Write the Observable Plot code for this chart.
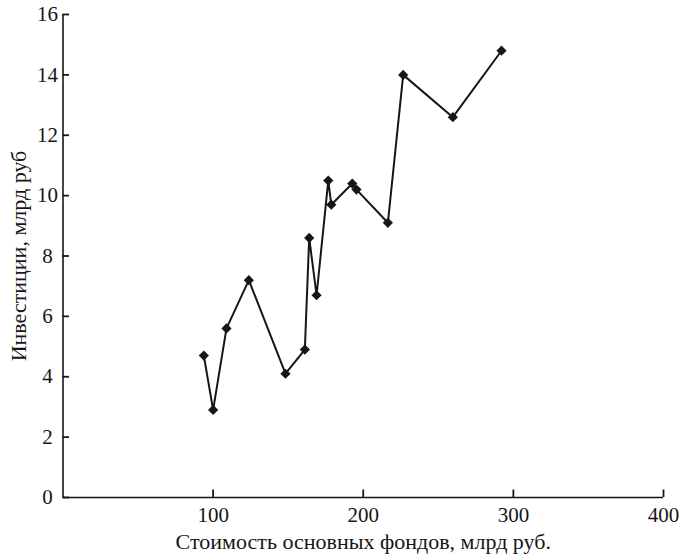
<!DOCTYPE html>
<html><head><meta charset="utf-8">
<script src="https://cdn.jsdelivr.net/npm/d3@7"></script>
<script src="https://cdn.jsdelivr.net/npm/@observablehq/plot@0.6"></script>
<style>
body{margin:0;background:#fff;}
</style></head><body><div id="chart"></div>
<script>
const fundsValue = [93.8, 100, 108.9, 123.8, 148.2, 161.1, 164.0, 168.9, 176.7, 178.7, 192.7, 195.5, 216.4, 226.6, 259.7, 292.1];
const investment = [4.7, 2.9, 5.6, 7.2, 4.1, 4.9, 8.6, 6.7, 10.5, 9.7, 10.4, 10.2, 9.1, 14.0, 12.6, 14.8];
const xTicks = [100, 200, 300, 400];
const yTicks = [0, 2, 4, 6, 8, 10, 12, 14, 16];
const xLabel = "Стоимость основных фондов, млрд руб.";
const yLabel = "Инвестиции, млрд руб";

const data = fundsValue.map((x, i) => ({x, y: investment[i]}));
const ink = "#161616";
const font = "'Liberation Serif', 'DejaVu Serif', serif";

const W = 684, H = 556, mL = 62.5, mR = 21, mT = 14, mB = 59;
const frameW = W - mL - mR, frameH = H - mT - mB;
const xTickLen = 7.5, yTickLen = 6.5;

const plot = Plot.plot({
  width: W, height: H,
  marginLeft: mL, marginRight: mR, marginTop: mT, marginBottom: mB,
  style: {fontFamily: font, fontSize: "21px", color: ink, background: "#fff"},
  x: {domain: [0, 400]},
  y: {domain: [0, 16]},
  marks: [
    Plot.axisX(xTicks, {tickSize: 0, tickPadding: 10, label: null, fontSize: 21}),
    Plot.axisY(yTicks, {tickSize: 0, tickPadding: 15.5, textAnchor: "middle", label: null, fontSize: 21}),
    Plot.tickX(xTicks, {x: d => d, insetTop: frameH - xTickLen, stroke: ink, strokeWidth: 1.8}),
    Plot.tickY(yTicks, {y: d => d, insetRight: frameW - yTickLen, stroke: ink, strokeWidth: 1.8}),
    Plot.ruleX([0], {stroke: ink, strokeWidth: 1.6}),
    Plot.ruleY([0], {stroke: ink, strokeWidth: 1.6}),
    Plot.line(data, {x: "x", y: "y", stroke: ink, strokeWidth: 2}),
    Plot.dot(data, {x: "x", y: "y", symbol: "diamond2", r: 4.6, fill: ink, stroke: "none"}),
    Plot.text([xLabel], {text: d => d, frameAnchor: "bottom", lineAnchor: "middle", textAnchor: "middle", dy: 44, fontSize: 22, fill: ink}),
    Plot.text([yLabel], {text: d => d, frameAnchor: "left", lineAnchor: "middle", textAnchor: "middle", dx: -44.5, rotate: -90, fontSize: 22, fill: ink})
  ]
});
document.getElementById("chart").appendChild(plot);
</script>
</body></html>
